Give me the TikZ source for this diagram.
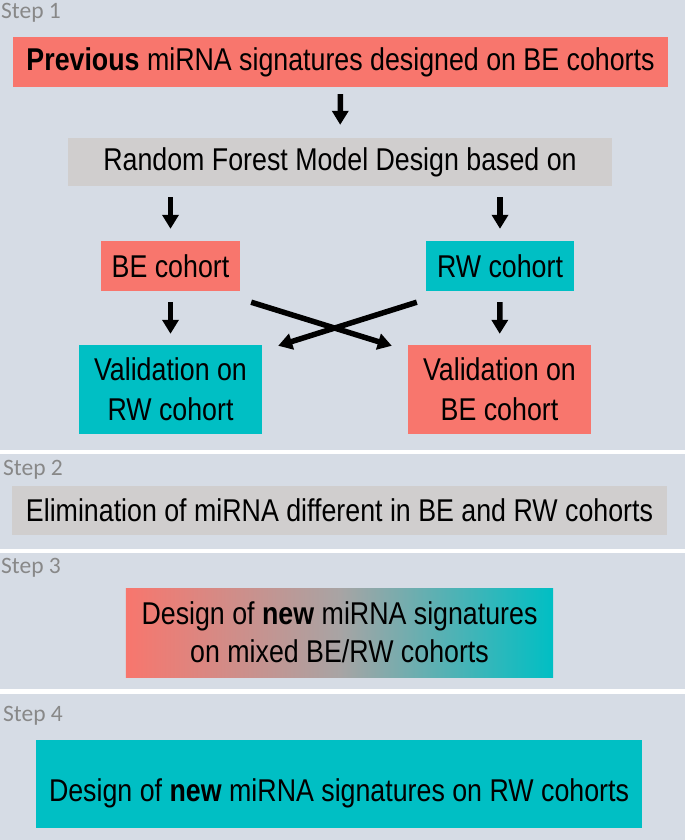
\documentclass[tikz,border=0pt]{standalone}
\usepackage{fontspec}
\usetikzlibrary{arrows.meta}
\newfontfamily\boxfont[FakeStretch=0.85]{Liberation Sans}
\newfontfamily\stepfont{Carlito}
\definecolor{panelbg}{HTML}{D6DCE5}
\definecolor{besalmon}{HTML}{F8766D}
\definecolor{rwteal}{HTML}{00BFC4}
\definecolor{boxgray}{HTML}{D0CECE}
\definecolor{midgray}{HTML}{A8A4A4}
\definecolor{steptext}{HTML}{888888}
\tikzset{
    box/.style={rectangle, inner sep=0pt, align=center, font=\boxfont\fontsize{31.5bp}{40bp}\selectfont},
    steplabel/.style={anchor=west, inner sep=0pt, text=steptext, font=\stepfont\fontsize{23.5bp}{26bp}\selectfont},
    arr/.style={line width=5.5bp, -{Triangle[width=16bp,length=14bp]}},
}
\begin{document}
\begin{tikzpicture}[x=1bp, y=-1bp]
            \fill[white] (0,0) rectangle (685,840);
            \fill[panelbg] (0,0) rectangle (685,450);
            \fill[panelbg] (0,454) rectangle (685,549);
            \fill[panelbg] (0,553) rectangle (685,689);
            \fill[panelbg] (0,694) rectangle (685,840);

            \node[steplabel] (step1) at (1,13) {Step 1};
            \node[steplabel] (step2) at (3,470) {Step 2};
            \node[steplabel] (step3) at (1,568) {Step 3};
            \node[steplabel] (step4) at (3,716) {Step 4};

            \node[box, fill=besalmon, minimum width=655bp, minimum height=50bp] (prev) at (340.5,62) {\textbf{Previous} miRNA signatures designed on BE cohorts};
            \node[box, fill=boxgray, minimum width=544bp, minimum height=48bp] (rf) at (340,162) {Random Forest Model Design based on};
            \node[box, fill=besalmon, minimum width=139bp, minimum height=50bp] (be) at (170.5,266) {BE cohort};
            \node[box, fill=rwteal, minimum width=148bp, minimum height=50bp] (rw) at (500,266) {RW cohort};
            \node[box, fill=rwteal, minimum width=183bp, minimum height=89bp] (valrw) at (170.5,389.5) {Validation on\\RW cohort};
            \node[box, fill=besalmon, minimum width=183bp, minimum height=89bp] (valbe) at (499.5,389.5) {Validation on\\BE cohort};

            \draw[arr, shorten <=7bp, shorten >=13bp] (prev) -- (rf);
            \draw[arr, shorten <=11bp, shorten >=12bp] (rf.south -| be) -- (be);
            \draw[arr, shorten <=11bp, shorten >=12bp] (rf.south -| rw) -- (rw);
            \draw[arr, shorten <=11bp, shorten >=11bp] (be) -- (valrw);
            \draw[arr, shorten <=11bp, shorten >=11bp] (rw) -- (valbe);
            \draw[arr] ([shift={(11,11)}]be.south east) -- ([shift={(-16,1)}]valbe.north west);
            \draw[arr] ([shift={(-9,11)}]rw.south west) -- ([shift={(16,1)}]valrw.north east);

            \node[box, fill=boxgray, minimum width=655bp, minimum height=49bp] (elim) at (339.5,510.5) {Elimination of miRNA different in BE and RW cohorts};

            \node[box, left color=besalmon, right color=rwteal, middle color=midgray, minimum width=427bp, minimum height=89bp,
                font=\boxfont\fontsize{31.5bp}{38bp}\selectfont] (mixed) at (339.5,632.5) {Design of \textbf{new} miRNA signatures\\on mixed BE/RW cohorts};

            \node[box, fill=rwteal, minimum width=606bp, minimum height=88bp, text height=40bp, text depth=6bp] (newrw) at (339,784) {Design of \textbf{new} miRNA signatures on RW cohorts};

        \end{tikzpicture}
\end{document}
